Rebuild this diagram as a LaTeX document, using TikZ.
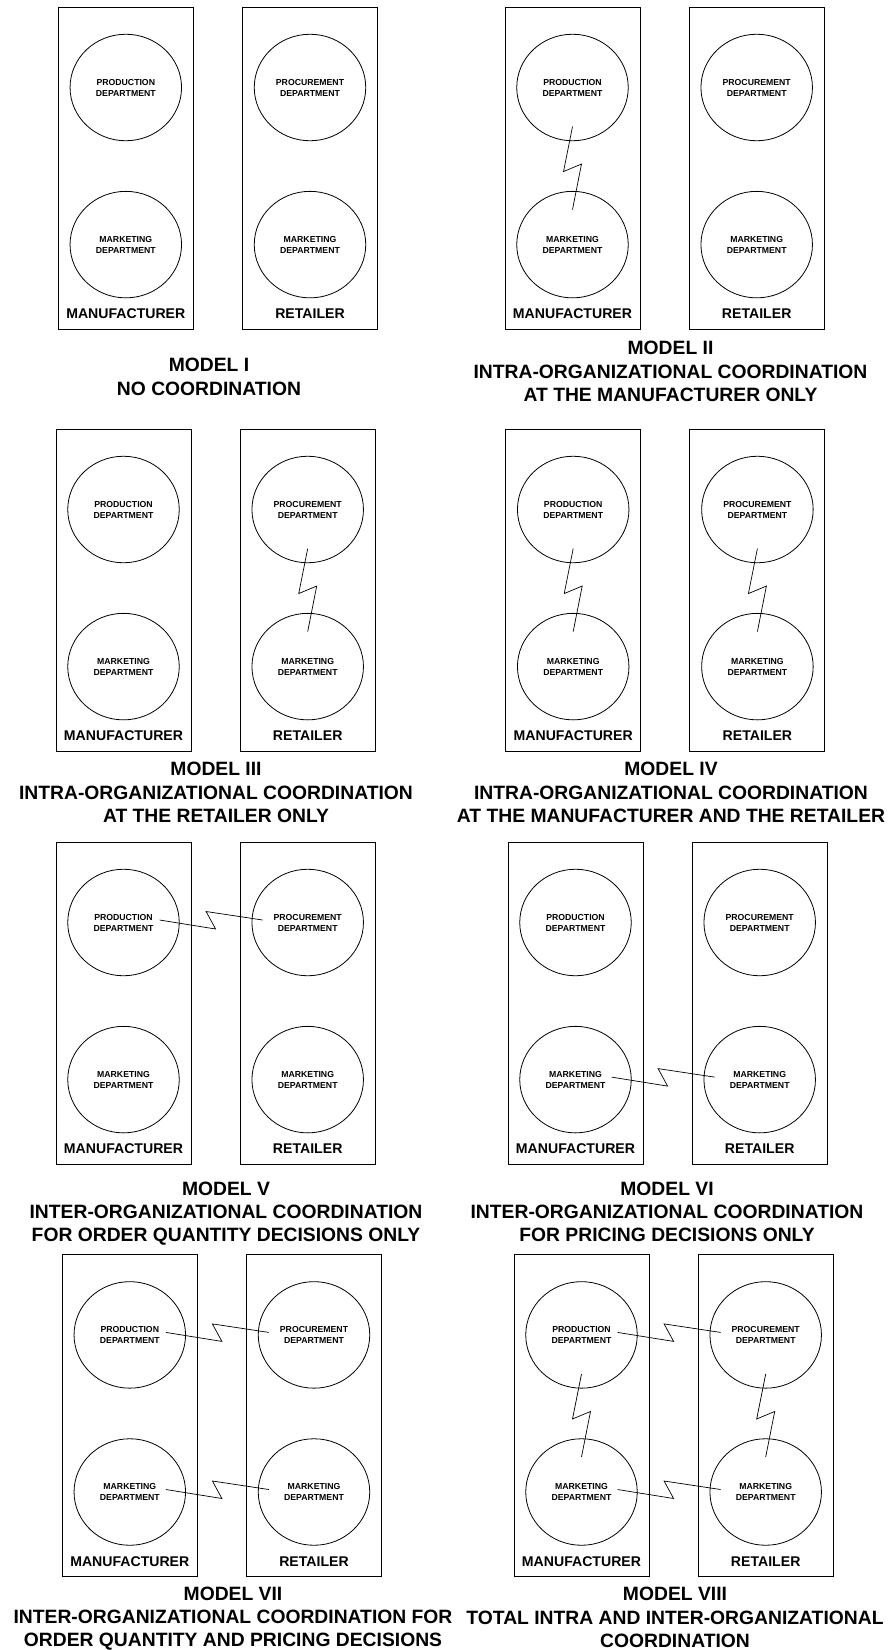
\documentclass[tikz,border=0pt]{standalone}
\usepackage{fontspec}
\setmainfont{Liberation Sans}
\usetikzlibrary{shapes.geometric,calc}
\tikzset{
  orgbox/.style={draw, line width=0.9pt, rectangle, minimum width=135pt, minimum height=321.8pt, anchor=north west, inner sep=0pt, outer sep=0pt},
  dept/.style={draw, ellipse, line width=0.8pt, minimum width=111.5pt, minimum height=106.5pt, inner sep=0pt, align=center, font=\bfseries\fontsize{8.7}{11}\selectfont},
  orglabel/.style={font=\bfseries\fontsize{14.1}{16}\selectfont, inner sep=0pt},
  modeltitle/.style={font=\bfseries\fontsize{19.3}{23.2}\selectfont, align=center, anchor=north, inner sep=0pt},
  zz/.style={line width=0.7pt, line join=miter},
}
\newcommand\modelpanel[3]{%
  \node[orgbox] (#1m) at (#2,#3) {};
  \node[orgbox] (#1r) at (#2+184.2,#3) {};
  \node[dept] (#1a) at (#2+67.5,#3+80.2) {PRODUCTION\\DEPARTMENT};
  \node[dept] (#1b) at (#2+251.7,#3+80.2) {PROCUREMENT\\DEPARTMENT};
  \node[dept] (#1c) at (#2+67.5,#3+237.3) {MARKETING\\DEPARTMENT};
  \node[dept] (#1d) at (#2+251.7,#3+237.3) {MARKETING\\DEPARTMENT};
  \node[orglabel] (#1ml) at (#2+67.5,#3+306.8) {MANUFACTURER};
  \node[orglabel] (#1rl) at (#2+251.7,#3+306.8) {RETAILER};
}
\newcommand\vzig[2]{\draw[zz] ($(#1)!0.5!(#2)+(0,-39.5)$) -- ++(-9,45) -- ++(18,-7.5) -- ++(-9,45.5);}
\newcommand\hzig[2]{\draw[zz] ($(#1)!0.5!(#2)+(-56,-2.5)$) -- ++(56,9) -- ++(-9.5,-17.5) -- ++(56.5,8.5);}
\begin{document}
\begin{tikzpicture}[x=1pt,y=-1pt]
  \path[fill=white, use as bounding box] (0,0) rectangle (893,1650);

  % Row 1
  \modelpanel{pI}{58.3}{7.3}
  \node[modeltitle] (tI) at (209,358.2) {MODEL I\\NO COORDINATION};

  \modelpanel{pII}{505}{7.3}
  \vzig{pIIa}{pIIc}
  \node[modeltitle] (tII) at (670.5,341.2) {MODEL II\\INTRA-ORGANIZATIONAL COORDINATION\\AT THE MANUFACTURER ONLY};

  % Row 2
  \modelpanel{pIII}{56}{429.3}
  \vzig{pIIIb}{pIIId}
  \node[modeltitle] (tIII) at (216,762.2) {MODEL III\\INTRA-ORGANIZATIONAL COORDINATION\\AT THE RETAILER ONLY};

  \modelpanel{pIV}{505.7}{429.3}
  \vzig{pIVa}{pIVc}
  \vzig{pIVb}{pIVd}
  \node[modeltitle] (tIV) at (671,762.2) {MODEL IV\\INTRA-ORGANIZATIONAL COORDINATION\\AT THE MANUFACTURER AND THE RETAILER};

  % Row 3
  \modelpanel{pV}{56}{842.3}
  \hzig{pVa}{pVb}
  \node[modeltitle] (tV) at (226,1181.5) {MODEL V\\INTER-ORGANIZATIONAL COORDINATION\\FOR ORDER QUANTITY DECISIONS ONLY};

  \modelpanel{pVI}{508}{842.3}
  \hzig{pVIc}{pVId}
  \node[modeltitle] (tVI) at (667,1181.5) {MODEL VI\\INTER-ORGANIZATIONAL COORDINATION\\FOR PRICING DECISIONS ONLY};

  % Row 4
  \modelpanel{pVII}{62.3}{1254.7}
  \hzig{pVIIa}{pVIIb}
  \hzig{pVIIc}{pVIId}
  \node[modeltitle] (tVII) at (233,1586.7) {MODEL VII\\INTER-ORGANIZATIONAL COORDINATION FOR\\ORDER QUANTITY AND PRICING DECISIONS};

  \modelpanel{pVIII}{514}{1254.7}
  \hzig{pVIIIa}{pVIIIb}
  \hzig{pVIIIc}{pVIIId}
  \vzig{pVIIIa}{pVIIIc}
  \vzig{pVIIIb}{pVIIId}
  \node[modeltitle] (tVIII) at (675,1587.2) {MODEL VIII\\TOTAL INTRA AND INTER-ORGANIZATIONAL\\COORDINATION};
\end{tikzpicture}
\end{document}
